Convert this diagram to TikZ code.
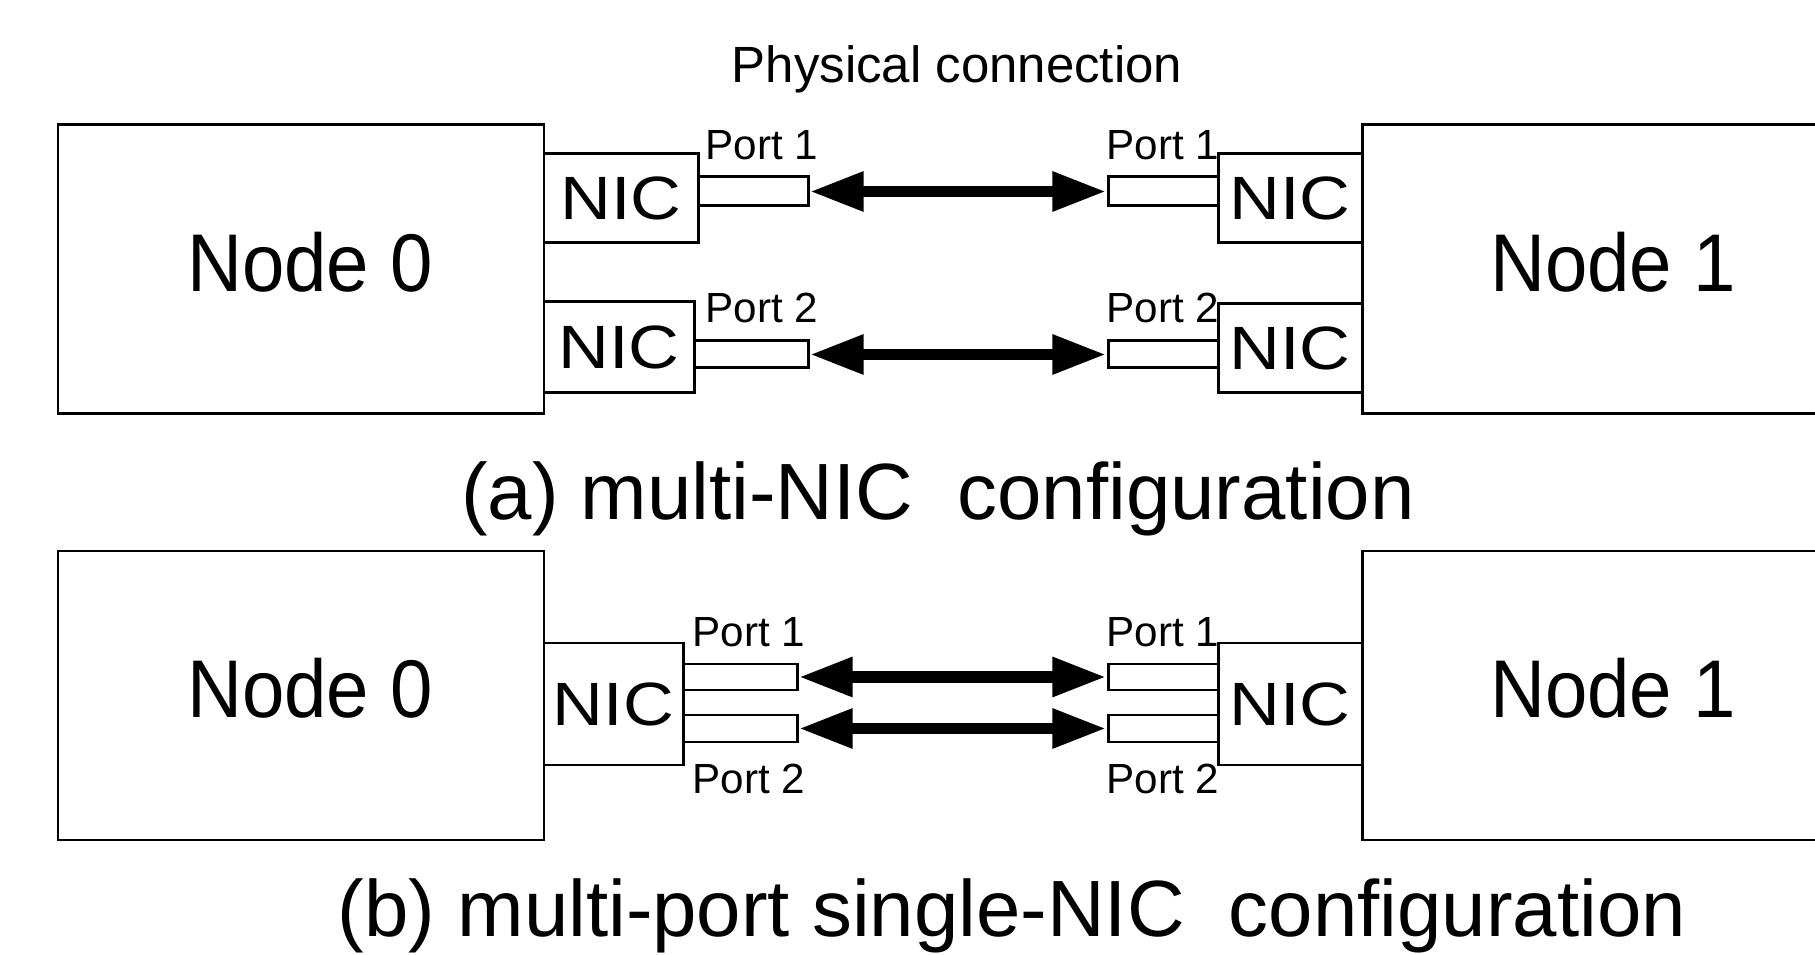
\documentclass[tikz,border=0pt]{standalone}
\usepackage{fontspec}
\setmainfont{Liberation Sans}
\usetikzlibrary{arrows.meta,fit}

\begin{document}
\begin{tikzpicture}[x=0.2845pt, y=-0.2845pt,
  box/.style={draw, line width=0.85pt, inner sep=0pt},
  link/.style={line width=3.4pt,
    {Triangle[length=15.4pt,width=10.5pt]}-{Triangle[length=15.4pt,width=10.5pt]}},
  hosttext/.style={inner sep=0pt, anchor=base, xscale=0.93, transform shape,
    font=\fontsize{23.3pt}{23.3pt}\selectfont},
  nictext/.style={inner sep=0pt, xscale=1.15, transform shape,
    font=\fontsize{17.4pt}{17.4pt}\selectfont},
  porttext/.style={inner sep=0pt, anchor=base west,
    font=\fontsize{12pt}{12pt}\selectfont},
  titletext/.style={inner sep=0pt, anchor=base,
    font=\fontsize{14.5pt}{14.5pt}\selectfont},
  captext/.style={inner sep=0pt, anchor=base,
    font=\fontsize{22.7pt}{22.7pt}\selectfont}]

\useasboundingbox (0,0) rectangle (1815,955);

% ---------- (a) multi-NIC configuration ----------
\node[titletext] (phys) at (957,83) {Physical connection};

\node[box, fit={(58,125) (544,414)}] (hostA0) {};
\node[box, fit={(1362,125) (1840,414)}] (hostA1) {};
\node[hosttext] (hostA0t) at (310,292) {Node 0};
\node[hosttext] (hostA1t) at (1613,292) {Node 1};

\node[box, fit={(544,154) (698,243)}] (nicA0a) {};
\node[box, fit={(544,302) (694,393)}] (nicA0b) {};
\node[box, fit={(1218,154) (1362,243)}] (nicA1a) {};
\node[box, fit={(1218,304) (1362,393)}] (nicA1b) {};
\node[nictext] at (nicA0a.center) {NIC};
\node[nictext] at (nicA0b.center) {NIC};
\node[nictext] at (nicA1a.center) {NIC};
\node[nictext] at (nicA1b.center) {NIC};

\node[box, fit={(698,177) (808,206)}] (portA0a) {};
\node[box, fit={(694,341) (808,368)}] (portA0b) {};
\node[box, fit={(1108,177) (1218,206)}] (portA1a) {};
\node[box, fit={(1108,341) (1218,368)}] (portA1b) {};
\node[porttext] (lblA0a) at (705,160) {Port 1};
\node[porttext] (lblA0b) at (705,323) {Port 2};
\node[porttext] (lblA1a) at (1106,160) {Port 1};
\node[porttext] (lblA1b) at (1106,323) {Port 2};

\draw[link] (portA0a.east) -- (portA1a.west);
\draw[link] (portA0b.east) -- (portA1b.west);

\node[captext] (capA) at (938,520) {(a) multi-NIC\ \ configuration};

% ---------- (b) multi-port single-NIC configuration ----------
\node[box, fit={(58,551) (544,840)}] (hostB0) {};
\node[box, fit={(1362,551) (1840,840)}] (hostB1) {};
\node[hosttext] (hostB0t) at (310,718) {Node 0};
\node[hosttext] (hostB1t) at (1613,718) {Node 1};

\node[box, fit={(544,643) (683,765)}] (nicB0) {};
\node[box, fit={(1218,643) (1362,765)}] (nicB1) {};
\node[nictext] at (nicB0.center) {NIC};
\node[nictext] at (nicB1.center) {NIC};

\node[box, fit={(683,664) (797,690)}] (portB0a) {};
\node[box, fit={(683,715) (797,742)}] (portB0b) {};
\node[box, fit={(1108,664) (1218,690)}] (portB1a) {};
\node[box, fit={(1108,715) (1218,742)}] (portB1b) {};
\node[porttext] (lblB0a) at (692,647) {Port 1};
\node[porttext] (lblB0b) at (692,794) {Port 2};
\node[porttext] (lblB1a) at (1106,647) {Port 1};
\node[porttext] (lblB1b) at (1106,794) {Port 2};

\draw[link] (portB0a.east) -- (portB1a.west);
\draw[link] (portB0b.east) -- (portB1b.west);

\node[captext] (capB) at (1012,937) {(b) multi-port single-NIC\ \ configuration};

\end{tikzpicture}
\end{document}
